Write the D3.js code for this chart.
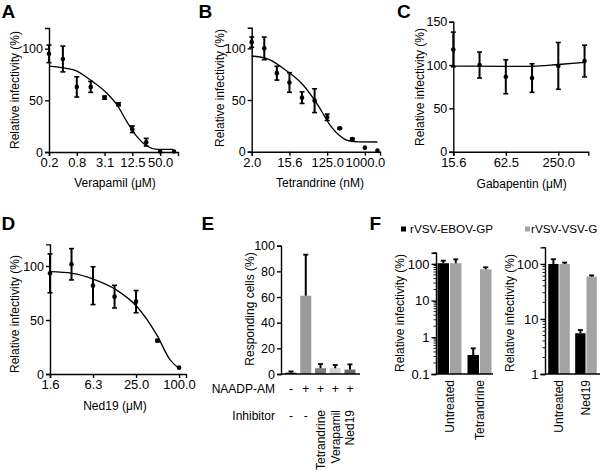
<!DOCTYPE html>
<html><head><meta charset="utf-8">
<script src="https://cdn.jsdelivr.net/npm/d3@7"></script>
<style>
body{margin:0;background:#fff}
svg{display:block}
text{font-family:"Liberation Sans",Arial,Helvetica,sans-serif;fill:#000}
</style>
</head><body>
<svg id="c" width="600" height="476"></svg>
<script>
// ---------- Panel A: Verapamil ----------
const concA = [0.195, 0.39, 0.78, 1.5625, 3.125, 6.25, 12.5, 25, 50, 100];
const valA  = [95, 90, 63, 63, 52.6, 46.2, 22, 9.5, 0.5, 0.5];
const errA  = [8.5, 12.5, 9.8, 5.3, 1.5, 1.5, 3.2, 3.7, 0, 0];
const fitXA = [0.195, 0.67, 1.54, 3.52, 5.8, 9.5, 15.7, 25.8, 42.6, 97];
const fitYA = [83.2, 79.4, 69.7, 56.8, 45.5, 29.4, 14.8, 5.8, 2.6, 2.6];
const tickXA = [0.195, 0.78, 3.125, 12.5, 50];
const tickLA = ["0.2", "0.8", "3.1", "12.5", "50.0"];

// ---------- Panel B: Tetrandrine ----------
const concB = [1.95, 3.9, 7.8, 15.625, 31.25, 62.5, 125, 250, 500, 1000, 2000];
const valB  = [106, 100, 76, 67, 52.3, 49.4, 33.3, 22.6, 12.3, 3.9, 1];
const errB  = [5, 11, 6.7, 9.5, 5.6, 11.5, 3.1, 0.8, 0.8, 0.5, 0];
const fitXB = [1.95, 5, 12.6, 31.6, 79, 137, 239, 415, 719, 2000];
const fitYB = [92.6, 89.4, 79, 65.5, 43.6, 27.5, 16.2, 10.6, 9.5, 9.4];
const tickXB = [1.95, 15.625, 125, 1000];
const tickLB = ["2.0", "15.6", "125.0", "1000.0"];

// ---------- Panel C: Gabapentin ----------
const concC = [15.625, 31.25, 62.5, 125, 250, 500];
const valC  = [118, 100, 86.5, 85, 99, 104.6];
const errC  = [20, 15, 19.6, 16.5, 27, 18.3];
const fitXC = [15.625, 62.5, 125, 250, 500];
const fitYC = [98.8, 98.4, 98.6, 100.6, 103];
const tickXC = [15.625, 62.5, 250];
const tickLC = ["15.6", "62.5", "250.0"];

// ---------- Panel D: Ned19 ----------
const concD = [1.5625, 3.125, 6.25, 12.5, 25, 50, 100];
const valD  = [93.2, 101.6, 81.8, 71.6, 67, 30.9, 5.9];
const errD  = [18, 14.5, 17.5, 10.5, 10.3, 1, 0.5];
const fitXD = [1.5625, 3.2, 6.4, 12.9, 25.8, 49, 75, 100];
const fitYD = [94.7, 93.2, 87.7, 78.4, 62.3, 36, 13, 5];
const tickXD = [1.5625, 6.25, 25, 100];
const tickLD = ["1.6", "6.3", "25.0", "100.0"];

// ---------- Panel E: responding cells ----------
const catE   = ["ctrl", "naadp", "Tetrandrine", "Verapamil", "Ned19"];
const valE   = [1, 61, 4.5, 4.5, 3.5];
const errE   = [1, 32, 3.3, 2.5, 4];
const colE   = ["#000000", "#9a9a9a", "#7c7c7c", "#cfcfcf", "#6a6a6a"];
const naadpE = ["-", "+", "+", "+", "+"];
const inhibE = ["-", "-", "Tetrandrine", "Verapamil", "Ned19"];
const tickYE = [0, 20, 40, 60, 80, 100];

// ---------- Panel F ----------
const seriesF  = ["rVSV-EBOV-GP", "rVSV-VSV-G"];
const colorsF  = ["#000000", "#a3a3a3"];
const groupsF1 = ["Untreated", "Tetrandrine"];
const ebovF1   = [104, 0.33];
const ebovErrF1 = [18, 0.17];
const vsvF1    = [104, 71.3];
const vsvErrF1 = [29, 9.5];
const groupsF2 = ["Untreated", "Ned19"];
const ebovF2   = [100, 5.5];
const ebovErrF2 = [22, 0.8];
const vsvF2    = [100, 59];
const vsvErrF2 = [6, 3];
const tickYF1 = [0.1, 1, 10, 100];
const tickYF2 = [1, 10, 100];

const svg = d3.select("#c");
const FS = 12;
const TX = 13;     // x tick label size
const TY = 12.5;   // y tick label size

function styleAxis(sel, size) {
  sel.select(".domain").attr("stroke", "#000").attr("stroke-width", 1.4);
  sel.selectAll(".tick line").attr("stroke", "#000").attr("stroke-width", 1.4);
  sel.selectAll(".tick text").attr("font-size", size).attr("fill", "#000")
     .attr("font-family", '"Liberation Sans",Arial,sans-serif');
  sel.attr("font-family", null).attr("font-size", null);
}

function yTitle(text, x, y) {
  svg.append("text").attr("transform", `translate(${x},${y}) rotate(-90)`)
    .attr("text-anchor", "middle").attr("font-size", FS).text(text);
}
function letter(t, x, y) {
  svg.append("text").attr("x", x).attr("y", y).attr("font-size", 19)
    .attr("font-weight", "bold").text(t);
}

function dosePanel(o) {
  const x = d3.scaleLog().domain(o.xDomain).range(o.xRange);
  const y = d3.scaleLinear().domain(o.yDomain).range(o.yRange);
  const g = svg.append("g");
  const xa = g.append("g").attr("transform", `translate(0,${o.yRange[0]})`)
    .call(d3.axisBottom(x).tickValues(o.xTicks).tickFormat((d, i) => o.xLabels[i])
      .tickSizeOuter(0).tickSize(4).tickPadding(2));
  styleAxis(xa, TX);
  const ya = g.append("g").attr("transform", `translate(${o.xRange[0]},0)`)
    .call(d3.axisLeft(y).tickValues(o.yTicks).tickSizeOuter(0).tickSize(4).tickPadding(2));
  styleAxis(ya, TY);
  const line = d3.line().x(d => x(d[0])).y(d => y(d[1])).curve(d3.curveMonotoneX);
  g.append("path").datum(d3.zip(o.fitX, o.fitY)).attr("d", line)
    .attr("fill", "none").attr("stroke", "#000").attr("stroke-width", 1.3);
  const pts = d3.zip(o.conc, o.val, o.err);
  const eb = g.append("g");
  pts.forEach(([c, v, e]) => {
    if (e <= 0.6) return;
    const cx = x(c);
    eb.append("line").attr("x1", cx).attr("x2", cx).attr("y1", y(v - e)).attr("y2", y(v + e))
      .attr("stroke", "#000").attr("stroke-width", 2);
    [v - e, v + e].forEach(w => eb.append("line").attr("x1", cx - 2.5).attr("x2", cx + 2.5)
      .attr("y1", y(w)).attr("y2", y(w)).attr("stroke", "#000").attr("stroke-width", 1.6));
  });
  g.append("g").selectAll("circle").data(pts).join("circle")
    .attr("cx", d => x(d[0])).attr("cy", d => y(d[1])).attr("r", 2.3).attr("fill", "#000");
  svg.append("text").attr("x", o.titleX).attr("y", o.titleY).attr("text-anchor", "middle")
    .attr("font-size", FS).text(o.title);
  yTitle("Relative infectivity (%)", o.yTitleX, o.yTitleY);
}

dosePanel({conc: concA, val: valA, err: errA, fitX: fitXA, fitY: fitYA,
  xDomain: [0.195, 122], xRange: [49, 178], yDomain: [0, 120], yRange: [152, 28],
  xTicks: tickXA, xLabels: tickLA, yTicks: [0, 50, 100],
  title: "Verapamil (\u03bcM)", titleX: 115, titleY: 187, yTitleX: 19, yTitleY: 90});
dosePanel({conc: concB, val: valB, err: errB, fitX: fitXB, fitY: fitYB,
  xDomain: [1.95, 2300], xRange: [251.7, 380], yDomain: [0, 120], yRange: [151.7, 27.7],
  xTicks: tickXB, xLabels: tickLB, yTicks: [0, 50, 100],
  title: "Tetrandrine (nM)", titleX: 320, titleY: 187, yTitleX: 223.5, yTitleY: 88});
dosePanel({conc: concC, val: valC, err: errC, fitX: fitXC, fitY: fitYC,
  xDomain: [15.625, 552], xRange: [453.3, 588.3], yDomain: [0, 150], yRange: [151.7, 21.7],
  xTicks: tickXC, xLabels: tickLC, yTicks: [0, 50, 100, 150],
  title: "Gabapentin (\u03bcM)", titleX: 521.7, titleY: 187.5, yTitleX: 423.5, yTitleY: 87});
dosePanel({conc: concD, val: valD, err: errD, fitX: fitXD, fitY: fitYD,
  xDomain: [1.5625, 125], xRange: [50, 186], yDomain: [0, 120], yRange: [374, 244.4],
  xTicks: tickXD, xLabels: tickLD, yTicks: [0, 50, 100],
  title: "Ned19 (\u03bcM)", titleX: 115, titleY: 410, yTitleX: 18.5, yTitleY: 314});

// ---------- Panel E ----------
(function () {
  const x = d3.scalePoint().domain(catE).range([281, 360]).padding(0.68);
  const y = d3.scaleLinear().domain([0, 100]).range([374, 245.7]);
  const bw = 11;
  const g = svg.append("g");
  g.selectAll("rect").data(catE).join("rect")
    .attr("x", d => x(d) - bw / 2).attr("width", bw)
    .attr("y", (d, i) => y(valE[i])).attr("height", (d, i) => y(0) - y(valE[i]))
    .attr("fill", (d, i) => colE[i]);
  catE.forEach((c, i) => {
    const cx = x(c), top = y(valE[i] + errE[i]);
    g.append("line").attr("x1", cx).attr("x2", cx).attr("y1", y(valE[i])).attr("y2", top)
      .attr("stroke", "#000").attr("stroke-width", 2);
    g.append("line").attr("x1", cx - 2.5).attr("x2", cx + 2.5).attr("y1", top).attr("y2", top)
      .attr("stroke", "#000").attr("stroke-width", 1.8);
  });
  const ya = g.append("g").attr("transform", "translate(281,0)")
    .call(d3.axisLeft(y).tickValues(tickYE).tickSizeOuter(0).tickSize(4).tickPadding(2));
  styleAxis(ya, TY);
  g.append("line").attr("x1", 281).attr("x2", 360).attr("y1", 374).attr("y2", 374)
    .attr("stroke", "#000").attr("stroke-width", 1.4);
  yTitle("Responding cells (%)", 253.5, 309);
  svg.append("text").attr("x", 275).attr("y", 393).attr("text-anchor", "end").attr("font-size", FS).text("NAADP-AM");
  svg.append("text").attr("x", 275).attr("y", 420).attr("text-anchor", "end").attr("font-size", FS).text("Inhibitor");
  catE.forEach((c, i) => {
    svg.append("text").attr("x", x(c)).attr("y", 393).attr("text-anchor", "middle")
      .attr("font-size", FS).text(naadpE[i]);
    if (inhibE[i] === "-") {
      svg.append("text").attr("x", x(c)).attr("y", 420).attr("text-anchor", "middle")
        .attr("font-size", FS).text("-");
    } else {
      svg.append("text").attr("transform", `translate(${x(c) + 4.3},410) rotate(-90)`)
        .attr("text-anchor", "end").attr("font-size", FS).text(inhibE[i]);
    }
  });
})();

// ---------- Panel F ----------
function fPanel(groups, ebov, ebovErr, vsv, vsvErr, yDomain, yRange, xRange, pad, ticks, yTitleX) {
  const y = d3.scaleLog().domain(yDomain).range(yRange);
  const x0 = d3.scaleBand().domain(groups).range(xRange).paddingInner(0.2).paddingOuter(pad);
  const x1 = d3.scaleBand().domain(seriesF).range([0, x0.bandwidth()]).paddingInner(0.08);
  const g = svg.append("g");
  const vals = [ebov, vsv], errs = [ebovErr, vsvErr];
  groups.forEach((gr, gi) => {
    seriesF.forEach((s, si) => {
      const v = vals[si][gi], e = errs[si][gi];
      const bx = x0(gr) + x1(s);
      g.append("rect").attr("x", bx).attr("width", x1.bandwidth())
        .attr("y", y(v)).attr("height", y(yDomain[0]) - y(v)).attr("fill", colorsF[si]);
      const cx = bx + x1.bandwidth() / 2, top = y(v + e);
      g.append("line").attr("x1", cx).attr("x2", cx).attr("y1", y(v)).attr("y2", top)
        .attr("stroke", "#000").attr("stroke-width", 2);
      g.append("line").attr("x1", cx - 2.5).attr("x2", cx + 2.5).attr("y1", top).attr("y2", top)
        .attr("stroke", "#000").attr("stroke-width", 1.8);
    });
    svg.append("text").attr("transform", `translate(${x0(gr) + x0.bandwidth() / 2 + 4.3},380) rotate(-90)`)
      .attr("text-anchor", "end").attr("font-size", FS).text(gr);
  });
  // minor ticks
  const minor = [];
  const lo = Math.round(Math.log10(yDomain[0]));
  for (let p = lo; p < 3; p++) for (let k = 2; k <= 9; k++) {
    const v = k * Math.pow(10, p);
    if (v <= yDomain[1]) minor.push(v);
  }
  g.selectAll("line.minor").data(minor).join("line").attr("class", "minor")
    .attr("x1", xRange[0] - 2.5).attr("x2", xRange[0]).attr("y1", d => y(d)).attr("y2", d => y(d))
    .attr("stroke", "#000").attr("stroke-width", 0.9);
  const ya = g.append("g").attr("transform", `translate(${xRange[0]},0)`)
    .call(d3.axisLeft(y).tickValues(ticks).tickFormat(d3.format("~g")).tickSizeOuter(0).tickSize(4.5).tickPadding(2));
  styleAxis(ya, 13);
  g.append("line").attr("x1", xRange[0]).attr("x2", xRange[1]).attr("y1", yRange[0]).attr("y2", yRange[0])
    .attr("stroke", "#000").attr("stroke-width", 1.4);
  yTitle("Relative infectivity (%)", yTitleX, 313);
}
fPanel(groupsF1, ebovF1, ebovErrF1, vsvF1, vsvErrF1, [0.1, 200], [374, 252.8], [436, 493], 0.05, tickYF1, 404);
fPanel(groupsF2, ebovF2, ebovErrF2, vsvF2, vsvErrF2, [1, 200], [374, 247.4], [545, 600], 0.12, tickYF2, 514);

// legend
seriesF.forEach((s, i) => {
  const lx = [401, 525][i];
  const tx = [410, 531][i];
  svg.append("rect").attr("x", lx).attr("y", 226.5).attr("width", 5).attr("height", 5).attr("fill", colorsF[i]);
  svg.append("text").attr("x", tx).attr("y", 233).attr("font-size", 11.7).text(s);
});

// panel letters
letter("A", 1.5, 18.3);
letter("B", 198.5, 18.3);
letter("C", 397, 18.3);
letter("D", 1.5, 229.5);
letter("E", 201.5, 229.5);
letter("F", 369.5, 229.5);
</script>
</body></html>
